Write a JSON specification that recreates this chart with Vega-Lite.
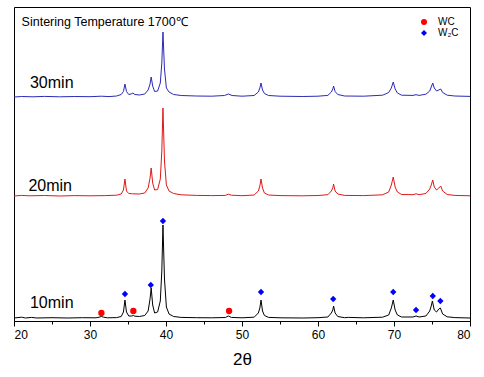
{
  "$schema": "https://vega.github.io/schema/vega-lite/v6.json",
  "width": 456,
  "height": 314,
  "autosize": {"type": "none"},
  "padding": {"left": 14, "top": 7, "right": 14, "bottom": 56},
  "background": "white",
  "config": {
    "view": {"stroke": "#000", "strokeWidth": 1},
    "font": "Liberation Sans"
  },
  "resolve": {"axis": {"x": "independent"}},
  "datasets": {
    "s10": [
      {"x":20,"y":3},{"x":21,"y":3.8},{"x":21.5,"y":3},{"x":22.3,"y":3.6},{"x":23,"y":3},{"x":25,"y":3.3},{"x":27,"y":3},{"x":29,"y":3.3},{"x":30.8,"y":3.2},{"x":31.2,"y":3.8},{"x":31.5,"y":4.5},{"x":31.8,"y":3.8},{"x":32.3,"y":3.2},{"x":33.5,"y":3.4},{"x":34.1,"y":4.5},{"x":34.4,"y":9},{"x":34.6,"y":21},{"x":34.8,"y":9},{"x":35.1,"y":5},{"x":35.5,"y":5},{"x":35.7,"y":5.5},{"x":35.9,"y":4.8},{"x":36.5,"y":4.5},{"x":37.2,"y":5.5},{"x":37.65,"y":10},{"x":37.9,"y":22},{"x":38.05,"y":33},{"x":38.25,"y":16},{"x":38.5,"y":8},{"x":38.9,"y":9},{"x":39.25,"y":20},{"x":39.45,"y":50},{"x":39.6,"y":96},{"x":39.8,"y":42},{"x":40.05,"y":14},{"x":40.4,"y":7},{"x":41,"y":4.5},{"x":42,"y":3.6},{"x":44,"y":3.3},{"x":46,"y":3.2},{"x":47.8,"y":3.5},{"x":48.2,"y":5},{"x":48.6,"y":3.6},{"x":50,"y":3.2},{"x":51.6,"y":3.8},{"x":52.15,"y":8},{"x":52.35,"y":13},{"x":52.5,"y":21},{"x":52.7,"y":10},{"x":52.95,"y":5.5},{"x":53.5,"y":3.6},{"x":55,"y":3.2},{"x":58,"y":3},{"x":60,"y":3.3},{"x":61.3,"y":4},{"x":61.75,"y":8},{"x":61.95,"y":11},{"x":62.05,"y":15},{"x":62.25,"y":8},{"x":62.6,"y":4.5},{"x":63.5,"y":3.3},{"x":64,"y":3.6},{"x":66,"y":3.2},{"x":68.5,"y":3.8},{"x":69.3,"y":6},{"x":69.65,"y":13},{"x":69.9,"y":21},{"x":70.15,"y":11},{"x":70.45,"y":6},{"x":71,"y":4},{"x":72.5,"y":4},{"x":72.9,"y":5},{"x":73.3,"y":4},{"x":74.2,"y":5},{"x":74.7,"y":10},{"x":74.9,"y":15},{"x":75.05,"y":20},{"x":75.3,"y":11},{"x":75.6,"y":9},{"x":75.9,"y":12},{"x":76.1,"y":13},{"x":76.4,"y":7},{"x":77,"y":4.2},{"x":78,"y":3.4},{"x":80,"y":3}
    ],
    "s20": [
      {"x":20,"y":125},{"x":21,"y":125.6},{"x":22,"y":125.2},{"x":24,"y":125.5},{"x":26,"y":125},{"x":28,"y":125.4},{"x":30,"y":125.2},{"x":32,"y":125.4},{"x":33.5,"y":125.8},{"x":34.1,"y":127},{"x":34.4,"y":131},{"x":34.6,"y":142},{"x":34.8,"y":130},{"x":35.1,"y":127.5},{"x":35.6,"y":127.2},{"x":36.5,"y":127},{"x":37.2,"y":128},{"x":37.65,"y":133},{"x":37.9,"y":143},{"x":38.05,"y":153},{"x":38.25,"y":138},{"x":38.5,"y":131},{"x":38.9,"y":131.5},{"x":39.25,"y":142},{"x":39.45,"y":170},{"x":39.6,"y":213},{"x":39.8,"y":160},{"x":40.05,"y":136},{"x":40.4,"y":130},{"x":41,"y":127.5},{"x":42,"y":126.2},{"x":44,"y":125.6},{"x":46,"y":125.4},{"x":47.8,"y":125.6},{"x":48.2,"y":126.8},{"x":48.6,"y":125.8},{"x":50,"y":125.3},{"x":51.6,"y":126},{"x":52.15,"y":130},{"x":52.35,"y":135},{"x":52.5,"y":142},{"x":52.7,"y":133},{"x":52.95,"y":128},{"x":53.5,"y":126},{"x":55,"y":125.4},{"x":58,"y":125.2},{"x":60,"y":125.5},{"x":61.3,"y":126.3},{"x":61.75,"y":130},{"x":61.95,"y":133},{"x":62.05,"y":137},{"x":62.25,"y":130},{"x":62.6,"y":127},{"x":63.5,"y":125.6},{"x":66,"y":125.4},{"x":68.5,"y":126.2},{"x":69.3,"y":129},{"x":69.65,"y":136},{"x":69.9,"y":144},{"x":70.15,"y":134},{"x":70.45,"y":129},{"x":71,"y":126.5},{"x":72.5,"y":126.3},{"x":72.9,"y":127.2},{"x":73.3,"y":126.3},{"x":74.2,"y":127.5},{"x":74.7,"y":132},{"x":74.9,"y":136},{"x":75.1,"y":141},{"x":75.3,"y":134},{"x":75.6,"y":131},{"x":75.9,"y":133},{"x":76.15,"y":135},{"x":76.4,"y":130},{"x":77,"y":126.5},{"x":78,"y":125.6},{"x":80,"y":125.2}
    ],
    "s30": [
      {"x":20,"y":224},{"x":21,"y":224.5},{"x":22.5,"y":224.2},{"x":24,"y":224.6},{"x":26,"y":224.2},{"x":28,"y":224.5},{"x":30,"y":224.3},{"x":31.5,"y":224.8},{"x":32.5,"y":224.4},{"x":33.5,"y":225},{"x":34.1,"y":226.5},{"x":34.4,"y":229.5},{"x":34.6,"y":237},{"x":34.8,"y":229.5},{"x":35.1,"y":226.5},{"x":35.4,"y":227},{"x":35.65,"y":228},{"x":35.9,"y":226.5},{"x":36.5,"y":226},{"x":37.2,"y":227},{"x":37.65,"y":231},{"x":37.9,"y":237},{"x":38.05,"y":244},{"x":38.25,"y":235},{"x":38.5,"y":229.5},{"x":38.9,"y":230},{"x":39.25,"y":238},{"x":39.45,"y":258},{"x":39.6,"y":289},{"x":39.8,"y":252},{"x":40.05,"y":233},{"x":40.4,"y":229},{"x":41,"y":226.5},{"x":42,"y":225.5},{"x":44,"y":225},{"x":46,"y":224.8},{"x":47.7,"y":225.5},{"x":48.2,"y":227},{"x":48.7,"y":225.5},{"x":50,"y":224.8},{"x":51.6,"y":225.5},{"x":52.15,"y":229},{"x":52.35,"y":233},{"x":52.5,"y":238},{"x":52.7,"y":231},{"x":52.95,"y":227.5},{"x":53.5,"y":225.5},{"x":55,"y":224.8},{"x":58,"y":224.5},{"x":60,"y":224.8},{"x":61.3,"y":225.6},{"x":61.75,"y":229},{"x":61.95,"y":232},{"x":62.05,"y":235},{"x":62.25,"y":229.5},{"x":62.6,"y":226.5},{"x":63.5,"y":225},{"x":66,"y":224.8},{"x":68.5,"y":225.8},{"x":69.3,"y":228.5},{"x":69.65,"y":233},{"x":69.9,"y":239},{"x":70.15,"y":232},{"x":70.45,"y":228},{"x":71,"y":225.8},{"x":72.5,"y":225.6},{"x":72.9,"y":226.3},{"x":73.3,"y":225.6},{"x":74.2,"y":226.8},{"x":74.7,"y":230},{"x":74.9,"y":234},{"x":75.1,"y":238},{"x":75.3,"y":233},{"x":75.6,"y":230},{"x":75.9,"y":231},{"x":76.15,"y":232},{"x":76.4,"y":228.5},{"x":77,"y":225.8},{"x":78,"y":225},{"x":80,"y":224.6}
    ],
    "markers": [
      {"x":31.5,"y":8,"phase":"WC"},{"x":35.7,"y":10,"phase":"WC"},{"x":48.3,"y":10,"phase":"WC"},
      {"x":34.6,"y":27,"phase":"W₂C"},{"x":38.0,"y":36,"phase":"W₂C"},{"x":39.6,"y":100,"phase":"W₂C"},{"x":52.5,"y":29,"phase":"W₂C"},{"x":62.0,"y":22,"phase":"W₂C"},{"x":69.9,"y":29,"phase":"W₂C"},{"x":72.9,"y":11,"phase":"W₂C"},{"x":75.1,"y":25,"phase":"W₂C"},{"x":76.1,"y":20,"phase":"W₂C"}
    ],
    "labels": [
      {"x":22.1,"y":238,"text":"30min"},{"x":21.9,"y":135,"text":"20min"},{"x":22.1,"y":18,"text":"10min"}
    ],
    "title": [
      {"x":21.0,"y":299,"text":"Sintering Temperature 1700℃"}
    ]
  },
  "encoding": {
    "y": {"field": "y", "type": "quantitative", "scale": {"domain": [0, 314], "nice": false, "zero": false}, "axis": null}
  },
  "layer": [
    {"data": {"name": "s10"}, "mark": {"type": "line", "color": "#000", "strokeWidth": 1},
      "encoding": {"x": {"field": "x", "type": "quantitative",
        "scale": {"domain": [20, 80], "nice": false, "zero": false},
        "axis": {"orient": "bottom", "title": "2θ", "values": [20,30,40,50,60,70,80],
          "grid": false, "tickSize": 5, "tickColor": "#000", "domainColor": "#000",
          "labelColor": "#000", "labelFontSize": 12, "labelPadding": 3, "labelFont": "Liberation Sans",
          "titleFont": "Liberation Sans", "titleFontWeight": "normal", "titleFontSize": 17, "titleColor": "#000", "titlePadding": 11}}}},
    {"data": {"name": "s20"}, "mark": {"type": "line", "color": "#e01818", "strokeWidth": 1},
      "encoding": {"x": {"field": "x", "type": "quantitative",
        "axis": {"orient": "bottom", "title": null, "values": [25,35,45,55,65,75], "labels": false, "domain": false,
          "grid": false, "tickSize": 3, "tickColor": "#000"}}}},
    {"data": {"name": "s30"}, "mark": {"type": "line", "color": "#2a2ab8", "strokeWidth": 1},
      "encoding": {"x": {"field": "x", "type": "quantitative", "axis": null}}},
    {"data": {"name": "markers"}, "mark": {"type": "point", "filled": true, "opacity": 1, "size": 40},
      "encoding": {
        "x": {"field": "x", "type": "quantitative", "axis": null},
        "color": {"field": "phase", "type": "nominal", "scale": {"domain": ["WC", "W₂C"], "range": ["#ff0000", "#0000ff"]},
          "legend": {"title": null, "orient": "none", "legendX": 405, "legendY": 10, "padding": 0, "symbolSize": 36,
            "labelFontSize": 10, "labelFont": "Liberation Sans", "labelColor": "#000", "labelOffset": 9, "rowPadding": 1}},
        "shape": {"field": "phase", "type": "nominal", "scale": {"domain": ["WC", "W₂C"], "range": ["circle", "diamond"]}}
      }},
    {"data": {"name": "labels"}, "mark": {"type": "text", "align": "left", "baseline": "middle", "fontSize": 16, "color": "#000", "font": "Liberation Sans"},
      "encoding": {"x": {"field": "x", "type": "quantitative", "axis": null}, "text": {"field": "text"}}},
    {"data": {"name": "title"}, "mark": {"type": "text", "align": "left", "baseline": "middle", "fontSize": 12.5, "color": "#000", "font": "Liberation Sans"},
      "encoding": {"x": {"field": "x", "type": "quantitative", "axis": null}, "text": {"field": "text"}}}
  ]
}
